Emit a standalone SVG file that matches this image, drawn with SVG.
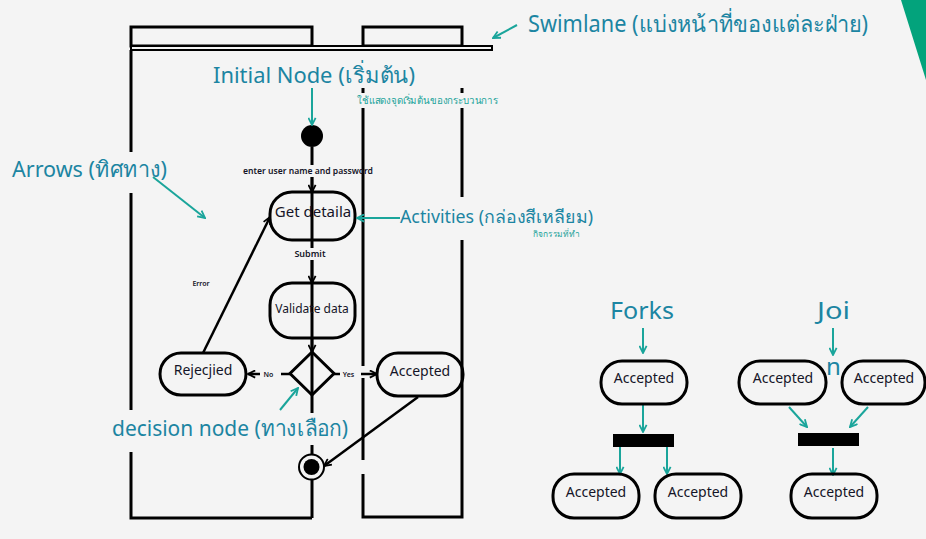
<svg xmlns="http://www.w3.org/2000/svg" width="926" height="539" viewBox="0 0 926 539">
<defs>
<style>
.lane{stroke:#000;stroke-width:3;fill:none}
.node{stroke:#000;stroke-width:3;fill:none}
.flow{stroke:#000;stroke-width:2.5;fill:none}
.teal{stroke:#1aa59b;stroke-width:2;fill:none}
.nt{font-family:"Noto Sans","Open Sans",sans-serif;fill:#141428;text-anchor:middle}
.sm{font-family:"Noto Sans","Open Sans",sans-serif;fill:#141428;font-weight:600;text-anchor:middle}
.ann{font-family:"Noto Sans","Open Sans",sans-serif;fill:#1c85a2}
.annsm{font-family:"Noto Sans","Open Sans",sans-serif;fill:#22a39a}
</style>
<marker id="ah" viewBox="0 0 10 10" refX="9" refY="5" markerWidth="9" markerHeight="9" markerUnits="userSpaceOnUse" orient="auto">
<path d="M1,1 L9,5 L1,9" fill="none" stroke="#000" stroke-width="2"/>
</marker>
<marker id="at" viewBox="0 0 10 10" refX="9" refY="5" markerWidth="9" markerHeight="9" markerUnits="userSpaceOnUse" orient="auto">
<path d="M1,1 L9,5 L1,9" fill="none" stroke="#1aa59b" stroke-width="2"/>
</marker>
</defs>
<rect width="926" height="539" fill="#f4f4f4"/>
<polygon points="901,0 926,0 926,80" fill="#03a37c"/>

<g id="swimlanes">
<rect x="131" y="27" width="181" height="19" class="lane"/>
<rect x="363" y="27" width="99" height="19" class="lane"/>
<rect x="131" y="46" width="361" height="4" fill="#f4f4f4" stroke="#000" stroke-width="2"/>
<path class="lane" d="M131,50 V152 M131,193 V410 M131,452 V518 H312 M312,445 V518 M312,147 V165 M312,177 V248 M312,260 V413"/>
<path class="lane" d="M363,88 V93 M363,108 V366 M363,378 V460 M363,474 V517 H462 V240 M462,197 V108 M462,93 V88"/>
</g>

<g id="connectors">
<line class="flow" x1="312" y1="177" x2="312" y2="192" marker-end="url(#ah)"/>
<line class="flow" x1="312" y1="260" x2="312" y2="283" marker-end="url(#ah)"/>
<line class="flow" x1="312" y1="339" x2="312" y2="352" marker-end="url(#ah)"/>
<path class="flow" d="M290,374 H281"/>
<line class="flow" x1="260" y1="374" x2="248" y2="374" marker-end="url(#ah)"/>
<path class="flow" d="M334,374 H340"/>
<line class="flow" x1="361" y1="374" x2="377" y2="374" marker-end="url(#ah)"/>
<line class="flow" x1="203" y1="353" x2="270" y2="217" marker-end="url(#ah)"/>
<line class="flow" x1="418" y1="397" x2="324" y2="466" marker-end="url(#ah)"/>
<text class="sm" x="308" y="174" font-size="9" textLength="130" lengthAdjust="spacingAndGlyphs">enter user name and password</text>
<text class="sm" x="310" y="257" font-size="9">Submit</text>
<text class="sm" x="201" y="286" font-size="7">Error</text>
<text class="sm" x="268.5" y="377" font-size="7">No</text>
<text class="sm" x="348.5" y="377" font-size="7">Yes</text>
<g id="fork-join-arrows">
<line class="teal" x1="643" y1="405" x2="643" y2="432" marker-end="url(#at)"/>
<line class="teal" x1="620" y1="447" x2="620" y2="474" marker-end="url(#at)"/>
<line class="teal" x1="667" y1="447" x2="667" y2="474" marker-end="url(#at)"/>
<line class="teal" x1="789" y1="407" x2="807" y2="427" marker-end="url(#at)"/>
<line class="teal" x1="868" y1="407" x2="850" y2="427" marker-end="url(#at)"/>
<line class="teal" x1="833" y1="448" x2="833" y2="475" marker-end="url(#at)"/>
</g>
</g>

<g id="initial-node"><circle cx="312" cy="136" r="11" fill="#000"/></g>
<g id="get-details"><rect x="270" y="192" width="85" height="48" rx="22" class="node"/><text class="nt" x="313" y="217" font-size="15">Get detaila</text></g>
<g id="validate-data"><rect x="270" y="283" width="85" height="55" rx="22" class="node"/><text class="nt" x="312" y="313" font-size="12">Validate data</text></g>
<g id="decision"><polygon points="312,352 334,373.5 312,395 290,373.5" class="node"/></g>
<g id="rejected"><rect x="160" y="353" width="86" height="42" rx="21" class="node"/><text class="nt" x="203" y="375" font-size="14">Rejecjied</text></g>
<g id="accepted"><rect x="377" y="353" width="86" height="43" rx="21" class="node"/><text class="nt" x="420" y="376" font-size="14">Accepted</text></g>
<g id="final-node"><circle cx="311.5" cy="467" r="12.5" fill="#f4f4f4" stroke="#000" stroke-width="2"/><circle cx="311.5" cy="467" r="8" fill="#000"/></g>

<g id="fork-accepted-top"><rect x="601" y="361" width="86" height="43" rx="21" class="node"/><text class="nt" x="644" y="383" font-size="14">Accepted</text></g>
<g id="fork-bar"><rect x="613" y="434" width="61" height="13" fill="#000"/></g>
<g id="fork-accepted-left"><rect x="553" y="474" width="86" height="44" rx="21" class="node"/><text class="nt" x="596" y="497" font-size="14">Accepted</text></g>
<g id="fork-accepted-right"><rect x="655" y="474" width="86" height="44" rx="21" class="node"/><text class="nt" x="698" y="497" font-size="14">Accepted</text></g>

<g id="join-accepted-left"><rect x="739" y="361" width="87" height="43" rx="21" class="node"/><text class="nt" x="783" y="383" font-size="14">Accepted</text></g>
<g id="join-accepted-right"><rect x="842" y="361" width="83" height="43" rx="21" class="node"/><text class="nt" x="884" y="383" font-size="14">Accepted</text></g>
<g id="join-bar"><rect x="798" y="433" width="61" height="13" fill="#000"/></g>
<g id="join-accepted-bottom"><rect x="791" y="474" width="86" height="44" rx="21" class="node"/><text class="nt" x="834" y="497" font-size="14">Accepted</text></g>

<g id="annotations">
<text class="ann" x="528" y="32" font-size="23" textLength="340" lengthAdjust="spacingAndGlyphs">Swimlane (แบ่งหน้าที่ของแต่ละฝ่าย)</text>
<line class="teal" x1="517" y1="25" x2="493" y2="38" marker-end="url(#at)"/>
<text class="ann" x="213" y="83" font-size="22" textLength="202" lengthAdjust="spacingAndGlyphs">Initial Node (เริ่มต้น)</text>
<line class="teal" x1="312" y1="88" x2="312" y2="125" marker-end="url(#at)"/>
<text class="annsm" x="357" y="104" font-size="10" textLength="141" lengthAdjust="spacingAndGlyphs">ใช้แสดงจุดเริ่มต้นของกระบวนการ</text>
<text class="ann" x="12" y="177" font-size="22" textLength="155" lengthAdjust="spacingAndGlyphs">Arrows (ทิศทาง)</text>
<line class="teal" x1="153" y1="177" x2="205" y2="218" marker-end="url(#at)"/>
<text class="ann" x="400" y="223" font-size="18" textLength="193" lengthAdjust="spacingAndGlyphs">Activities (กล่องสีเหลียม)</text>
<line class="teal" x1="400" y1="218" x2="357" y2="218" marker-end="url(#at)"/>
<text class="annsm" x="533" y="237" font-size="8.5" textLength="47" lengthAdjust="spacingAndGlyphs">กิจกรรมที่ทำ</text>
<text class="ann" x="112" y="436" font-size="22" textLength="236" lengthAdjust="spacingAndGlyphs">decision node (ทางเลือก)</text>
<line class="teal" x1="280" y1="410" x2="298" y2="388" marker-end="url(#at)"/>
<text class="ann" x="610" y="319" font-size="24" textLength="64" lengthAdjust="spacingAndGlyphs">Forks</text>
<line class="teal" x1="643" y1="328" x2="643" y2="353" marker-end="url(#at)"/>
<text class="ann" x="817" y="319" font-size="24" textLength="33" lengthAdjust="spacingAndGlyphs">Joi</text>
<text class="ann" x="826" y="375" font-size="24">n</text>
<line class="teal" x1="833" y1="328" x2="833" y2="355" marker-end="url(#at)"/>
</g>
</svg>
